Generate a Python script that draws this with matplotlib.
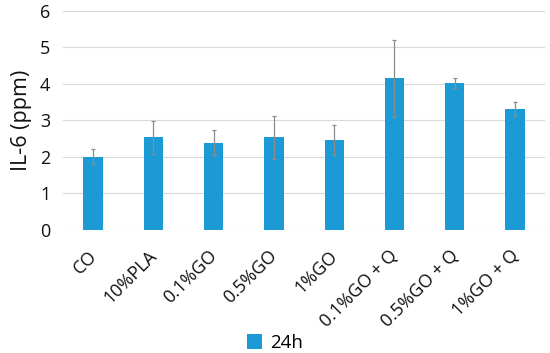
import matplotlib.pyplot as plt
import matplotlib.transforms as mtransforms
import numpy as np

# data
categories = ["CO", "10%PLA", "0.1%GO", "0.5%GO", "1%GO",
              "0.1%GO + Q", "0.5%GO + Q", "1%GO + Q"]
il6_24h = [2.01, 2.53, 2.39, 2.53, 2.45, 4.15, 4.02, 3.31]
il6_err = [0.20, 0.46, 0.34, 0.59, 0.41, 1.05, 0.14, 0.20]

BAR_COLOR = "#1b9ad6"
TEXT_COLOR = "#111111"

plt.rcParams["font.family"] = ["Open Sans", "DejaVu Sans"]

fig = plt.figure(figsize=(5.5, 3.53), dpi=100)
ax = fig.add_axes([0.1145, 0.3484, 0.8765, 0.6216])

x = np.arange(len(categories))
ax.bar(x, il6_24h, width=0.32, color=BAR_COLOR, label="24h", zorder=2)
ax.errorbar(x, il6_24h, yerr=il6_err, fmt="none", ecolor="#8c8c8c",
            elinewidth=0.9, capsize=1.5, capthick=0.9, zorder=3)

ax.set_xlim(-0.5, len(categories) - 0.5)
ax.set_ylim(0, 6)
ax.set_yticks(range(0, 7))
ax.grid(axis="y", color="#d9d9d9", linewidth=0.8, zorder=0)
ax.set_axisbelow(True)
for s in ["top", "right", "left", "bottom"]:
    ax.spines[s].set_visible(False)
ax.tick_params(axis="y", length=0, labelsize=13, colors=TEXT_COLOR, pad=9)
ax.tick_params(axis="x", length=0, labelsize=13, colors=TEXT_COLOR, pad=12)

ax.set_xticks(x)
ax.set_xticklabels(categories, rotation=45, ha="right", rotation_mode="anchor")
# nudge rotated labels a little to the left, like the original
shift = mtransforms.ScaledTranslation(-4 / 72, 0, fig.dpi_scale_trans)
for lbl in ax.get_xticklabels():
    lbl.set_transform(lbl.get_transform() + shift)

ax.set_ylabel("IL-6 (ppm)", fontsize=15.5, color=TEXT_COLOR, labelpad=6)

fig.legend(loc="lower center", bbox_to_anchor=(0.5, -0.045), frameon=False,
           fontsize=13.5, handlelength=0.8, handleheight=0.8, handletextpad=0.4)

fig.savefig("out.png", dpi=100)
